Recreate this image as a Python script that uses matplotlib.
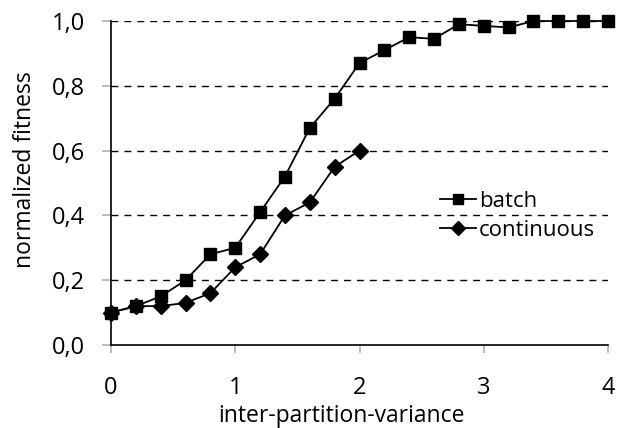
import matplotlib
matplotlib.use("Agg")
import matplotlib.pyplot as plt

batch_x = [0.0, 0.2, 0.4, 0.6, 0.8, 1.0, 1.2, 1.4, 1.6, 1.8, 2.0,
           2.2, 2.4, 2.6, 2.8, 3.0, 3.2, 3.4, 3.6, 3.8, 4.0]
batch_y = [0.10, 0.12, 0.15, 0.20, 0.28, 0.30, 0.41, 0.52, 0.67, 0.76, 0.87,
           0.91, 0.95, 0.945, 0.99, 0.985, 0.98, 1.0, 1.0, 1.0, 1.0]
cont_x = [0.0, 0.2, 0.4, 0.6, 0.8, 1.0, 1.2, 1.4, 1.6, 1.8, 2.0]
cont_y = [0.10, 0.12, 0.12, 0.13, 0.16, 0.24, 0.28, 0.40, 0.44, 0.55, 0.60]

y_ticks = [0.0, 0.2, 0.4, 0.6, 0.8, 1.0]
y_labels = ["0,0", "0,2", "0,4", "0,6", "0,8", "1,0"]
x_ticks = [0, 1, 2, 3, 4]

plt.rcParams["font.family"] = ["Open Sans", "DejaVu Sans"]

fig = plt.figure(figsize=(6.21, 4.28), dpi=100)
ax = fig.add_axes([111 / 621, 83 / 428, 497 / 621, 324 / 428])

# dashed horizontal gridlines
for yv in y_ticks[1:]:
    ax.axhline(yv, color="black", linestyle=(0, (5, 4.3)), linewidth=1.0, zorder=1)

ax.plot(batch_x, batch_y, color="black", marker="s", markersize=8.5, linewidth=1.3,
        label="batch", zorder=3, clip_on=False)
ax.plot(cont_x, cont_y, color="black", marker="D", markersize=8, linewidth=1.3,
        label="continuous", zorder=3, clip_on=False)

ax.set_xlim(0, 4)
ax.set_ylim(0, 1.0)
ax.set_xticks(x_ticks)
ax.set_xticklabels([str(t) for t in x_ticks])
ax.set_yticks(y_ticks)
ax.set_yticklabels(y_labels)
ax.tick_params(axis="both", labelsize=17, direction="out", width=1.2,
               color="#b0b0b0", labelcolor="black")
ax.tick_params(axis="x", length=6, pad=16)
ax.tick_params(axis="y", length=6.5, pad=12)
ax.spines["top"].set_visible(False)
ax.spines["right"].set_visible(False)
ax.spines["left"].set_linewidth(1.2)
ax.spines["bottom"].set_linewidth(1.2)

fig.text(341.5 / 621, 1 - 416 / 428, "inter-partition-variance", fontsize=16.5,
         ha="center", va="center")
fig.text(25 / 621, 1 - 170 / 428, "normalized fitness", fontsize=16.5,
         ha="center", va="center", rotation=90)

ax.legend(loc="center left", bbox_to_anchor=(0.662, 0.398), frameon=False,
          fontsize=16, handlelength=1.6, handletextpad=0.15, labelspacing=0.35,
          borderpad=0, borderaxespad=0, markerscale=0.85)

fig.savefig("out.png", dpi=100)
